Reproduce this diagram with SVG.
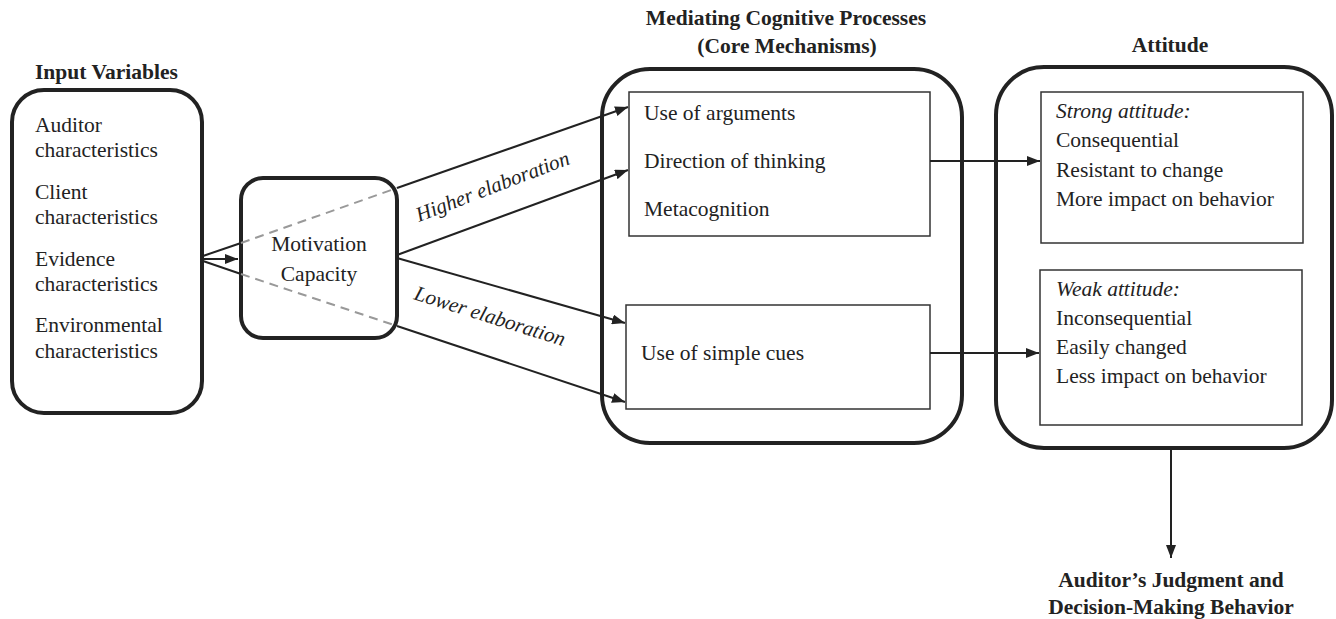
<svg xmlns="http://www.w3.org/2000/svg" width="1336" height="619" viewBox="0 0 1336 619" font-family="'Liberation Serif', 'Times New Roman', Tinos, 'DejaVu Serif', serif">
<style>
text{font-family:'Liberation Serif','Times New Roman',Tinos,'DejaVu Serif',serif;fill:#222;font-size:21.5px}
.b{font-weight:bold}
.i{font-style:italic}
.big{fill:#fff;stroke:#222;stroke-width:4}
.in{fill:#fff;stroke:#333;stroke-width:1.5}
.c{stroke:#222;stroke-width:2;fill:none}
.d{stroke:#999;stroke-width:2;fill:none;stroke-dasharray:9,6}
.lab{font-size:21px;font-style:italic}
</style>
<defs>
<marker id="ah" viewBox="0 0 13 10" refX="13" refY="5" markerWidth="13" markerHeight="10" markerUnits="userSpaceOnUse" orient="auto">
<path d="M0,0 L13,5 L0,10 z" fill="#222"/>
</marker>
</defs>

<g id="input">
<text class="b" x="35" y="79">Input Variables</text>
<rect class="big" x="12" y="90" width="190" height="323" rx="32"/>
<text x="35" y="132">Auditor</text>
<text x="35" y="157">characteristics</text>
<text x="35" y="199">Client</text>
<text x="35" y="224">characteristics</text>
<text x="35" y="266">Evidence</text>
<text x="35" y="291">characteristics</text>
<text x="35" y="332">Environmental</text>
<text x="35" y="358">characteristics</text>
</g>

<g id="motivation">
<rect class="big" x="241" y="178" width="156" height="160" rx="22"/>
<text x="319" y="251" text-anchor="middle">Motivation</text>
<text x="319" y="281" text-anchor="middle">Capacity</text>
</g>

<g id="mediating">
<text class="b" x="786" y="25" text-anchor="middle">Mediating Cognitive Processes</text>
<text class="b" x="787" y="53" text-anchor="middle">(Core Mechanisms)</text>
<rect class="big" x="602" y="69" width="360" height="374" rx="48"/>
<rect class="in" x="629" y="92" width="301" height="144"/>
<text x="644" y="120">Use of arguments</text>
<text x="644" y="168">Direction of thinking</text>
<text x="644" y="216">Metacognition</text>
<rect class="in" x="626" y="305" width="304" height="104"/>
<text x="641" y="360">Use of simple cues</text>
</g>

<g id="attitude">
<text class="b" x="1170" y="52" text-anchor="middle">Attitude</text>
<rect class="big" x="996" y="67" width="336" height="381" rx="48"/>
<rect class="in" x="1041" y="92" width="262" height="151"/>
<text class="i" x="1056" y="118">Strong attitude:</text>
<text x="1056" y="147">Consequential</text>
<text x="1056" y="177">Resistant to change</text>
<text x="1056" y="206">More impact on behavior</text>
<rect class="in" x="1040" y="270" width="262" height="155"/>
<text class="i" x="1056" y="296">Weak attitude:</text>
<text x="1056" y="325">Inconsequential</text>
<text x="1056" y="354">Easily changed</text>
<text x="1056" y="383">Less impact on behavior</text>
</g>

<g id="outcome">
<text class="b" x="1171" y="587" text-anchor="middle">Auditor’s Judgment and</text>
<text class="b" x="1171" y="614" text-anchor="middle">Decision-Making Behavior</text>
</g>

<g id="connectors">
<line class="c" x1="203" y1="256" x2="241" y2="243"/>
<line class="d" x1="241" y1="243" x2="397" y2="188"/>
<line class="c" x1="397" y1="188" x2="628" y2="107" marker-end="url(#ah)"/>
<line class="c" x1="203" y1="261" x2="241" y2="274"/>
<line class="d" x1="241" y1="274" x2="397" y2="326"/>
<line class="c" x1="397" y1="326" x2="625" y2="402" marker-end="url(#ah)"/>
<line class="c" x1="203" y1="259" x2="238" y2="259" marker-end="url(#ah)"/>
<line class="c" x1="397" y1="255" x2="628" y2="170" marker-end="url(#ah)"/>
<line class="c" x1="397" y1="258" x2="625" y2="323" marker-end="url(#ah)"/>
<line class="c" x1="930" y1="161" x2="1040" y2="161" marker-end="url(#ah)"/>
<line class="c" x1="930" y1="353" x2="1039" y2="353" marker-end="url(#ah)"/>
<line class="c" x1="1171" y1="450" x2="1171" y2="558" marker-end="url(#ah)"/>
<text class="lab" transform="translate(419,222) rotate(-21)">Higher elaboration</text>
<text class="lab" transform="translate(413,299) rotate(17.5)">Lower elaboration</text>
</g>
</svg>
